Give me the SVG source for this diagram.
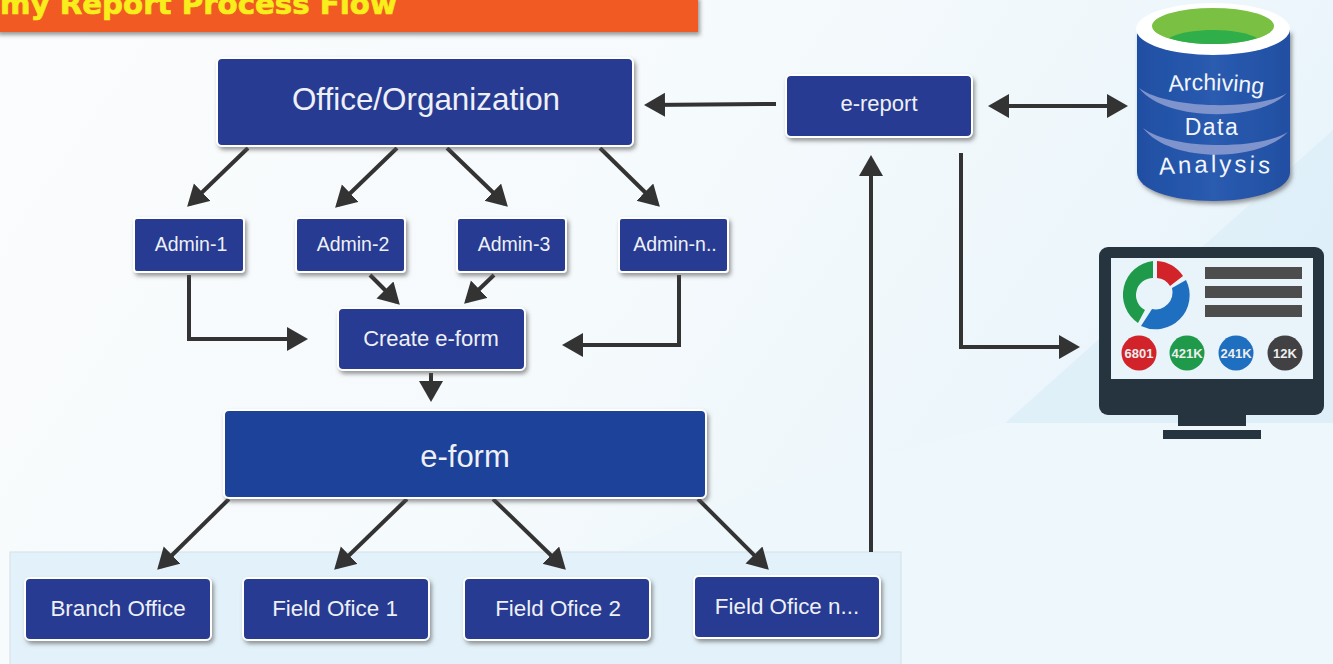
<svg xmlns="http://www.w3.org/2000/svg" width="1333" height="664" viewBox="0 0 1333 664">
<style>
.box{fill:#283b91;stroke:#fff;stroke-width:2}
.t{fill:#eef0f6;font-family:"Liberation Sans",Arial,sans-serif;text-anchor:middle}
.s{font-size:19.5px}.m{font-size:22.4px}
.c{fill:none;stroke:#333;stroke-width:4;marker-end:url(#a)}
.k{font-family:"Liberation Sans",Arial,sans-serif;font-size:13px;font-weight:bold;fill:#eee;text-anchor:middle}
.dbt{font-family:"Liberation Sans",Arial,sans-serif;fill:#f2f5fb;text-anchor:middle}
.mon{fill:#26343f}
</style>
<defs>
<linearGradient id="bg" x1="0" y1="0" x2="1" y2="0.35"><stop offset="0" stop-color="#fbfcfd"/><stop offset="0.55" stop-color="#f5fafc"/><stop offset="1" stop-color="#e8f4fb"/></linearGradient>
<linearGradient id="cyl" x1="0" y1="0" x2="1" y2="0"><stop offset="0" stop-color="#1f4fa3"/><stop offset="0.5" stop-color="#2a5bb0"/><stop offset="1" stop-color="#214fa2"/></linearGradient>
<marker id="a" markerUnits="userSpaceOnUse" markerWidth="24" markerHeight="26" refX="17" refY="12" orient="auto-start-reverse"><path d="M0,0L21,12L0,24Z" fill="#333"/></marker>
<filter id="sh" x="-10%" y="-15%" width="120%" height="135%"><feDropShadow dx="2" dy="3" stdDeviation="2" flood-color="#555" flood-opacity="0.6"/></filter>
<path id="p1" d="M1166,92Q1215,87 1266,95"/>
<path id="p2" d="M1156,175Q1215,170 1276,174"/>
</defs>
<rect width="1333" height="664" fill="url(#bg)"/>
<polygon points="1005,423 1333,130 1333,423" fill="#dcedf8" opacity="0.75"/>
<polygon points="420,664 620,550 760,490 900,452 1005,423 1333,423 1333,664" fill="#eef7fc"/>

<g id="title">
<rect x="-4" y="-4" width="702" height="36" fill="#f15a24" filter="url(#sh)"/>
<text x="0" y="14" font-family="'DejaVu Sans',sans-serif" font-weight="bold" font-size="29" fill="#f7ee1b" stroke="#f7ee1b" stroke-width="0.7" textLength="397" lengthAdjust="spacingAndGlyphs">my Report Process Flow</text>
</g>

<g id="panel"><rect x="10" y="552" width="891" height="114" fill="#e3f2fa" stroke="#d3dfe6"/></g>

<g id="connectors">
<path class="c" d="M248,148L190,204"/>
<path class="c" d="M397,148L338,205"/>
<path class="c" d="M447,148L505,204"/>
<path class="c" d="M600,148L657,204"/>
<path class="c" d="M776,104L648,105"/>
<path class="c" d="M992,106L1124,106" style="marker-start:url(#a)"/>
<path class="c" d="M961,153V347H1076"/>
<path class="c" d="M871,552V159"/>
<path class="c" d="M189,275V339H304"/>
<path class="c" d="M679,275V345H566"/>
<path class="c" d="M370,275L397,302"/>
<path class="c" d="M494,275L467,301"/>
<path class="c" d="M431,373V398"/>
<path class="c" d="M229,499L160,567"/>
<path class="c" d="M407,499L337,567"/>
<path class="c" d="M493,499L563,567"/>
<path class="c" d="M698,499L766,567"/>
</g>

<g id="office"><rect class="box" x="217" y="58" width="416" height="88" rx="5" filter="url(#sh)"/><text class="t" x="426" y="110" font-size="31.4">Office/Organization</text></g>
<g id="ereport"><rect class="box" x="786" y="75" width="186" height="62" rx="5" filter="url(#sh)"/><text class="t" x="879" y="111" font-size="22">e-report</text></g>
<g id="admin1"><rect class="box" x="134" y="218" width="110" height="54" rx="3" filter="url(#sh)"/><text class="t s" x="191" y="251">Admin-1</text></g>
<g id="admin2"><rect class="box" x="296" y="218" width="109" height="54" rx="3" filter="url(#sh)"/><text class="t s" x="353" y="251">Admin-2</text></g>
<g id="admin3"><rect class="box" x="457" y="218" width="109" height="54" rx="3" filter="url(#sh)"/><text class="t s" x="514" y="251">Admin-3</text></g>
<g id="adminn"><rect class="box" x="619" y="218" width="109" height="54" rx="3" filter="url(#sh)"/><text class="t s" x="675" y="251">Admin-n..</text></g>
<g id="create"><rect class="box" x="338" y="308" width="187" height="62" rx="5" filter="url(#sh)"/><text class="t" x="431" y="346" font-size="22">Create e-form</text></g>
<g id="eform"><rect class="box" x="224" y="410" width="482" height="88" rx="5" style="fill:#1f4399" filter="url(#sh)"/><text class="t" x="465" y="467" font-size="31">e-form</text></g>
<g id="branch"><rect class="box" x="25" y="578" width="186" height="62" rx="5" filter="url(#sh)"/><text class="t m" x="118" y="616">Branch Office</text></g>
<g id="field1"><rect class="box" x="243" y="578" width="186" height="62" rx="5" filter="url(#sh)"/><text class="t m" x="335" y="616">Field Ofice 1</text></g>
<g id="field2"><rect class="box" x="464" y="578" width="186" height="62" rx="5" filter="url(#sh)"/><text class="t m" x="558" y="616">Field Ofice 2</text></g>
<g id="fieldn"><rect class="box" x="694" y="576" width="186" height="62" rx="5" filter="url(#sh)"/><text class="t m" x="787" y="614">Field Ofice n...</text></g>

<g id="database">
<path d="M1137,30V172C1137,190 1172,201 1213,201C1254,201 1290,190 1290,172V30Z" fill="url(#cyl)" filter="url(#sh)"/>
<ellipse cx="1213" cy="29" rx="77" ry="26" fill="#fff"/>
<ellipse cx="1213" cy="26" rx="61" ry="18" fill="#7ac143"/>
<path d="M1169,38C1180,32 1198,30 1213,30C1232,30 1248,33 1257,38C1245,42 1230,44 1213,44C1196,44 1181,42 1169,38Z" fill="#2fae4a"/>
<path d="M1139,88C1165,122 1260,122 1287,93C1262,110 1168,110 1139,88Z" fill="#7f93cc"/>
<path d="M1143,128C1170,163 1258,163 1288,132C1260,150 1170,150 1143,128Z" fill="#7f93cc"/>
<text class="dbt" font-size="23"><textPath href="#p1" startOffset="50%">Archiving</textPath></text>
<text class="dbt" x="1212" y="135" font-size="23" letter-spacing="1.5">Data</text>
<text class="dbt" font-size="24" letter-spacing="3"><textPath href="#p2" startOffset="50%">Analysis</textPath></text>
</g>

<g id="monitor">
<rect class="mon" x="1099" y="247" width="225" height="168" rx="9"/>
<rect x="1111" y="258" width="202" height="121" fill="#e8f3fa"/>
<rect class="mon" x="1178" y="414" width="68" height="12"/>
<rect class="mon" x="1163" y="430" width="98" height="9"/>
<path d="M1157,261A34,34 0 0 1 1183,276L1170,286A17,17 0 0 0 1157,278Z" fill="#d2232a"/>
<path d="M1186,280A34,34 0 0 1 1141,326L1152,309A17,17 0 0 0 1172,288Z" fill="#1f6fc0"/>
<path d="M1138,323A34,34 0 0 1 1153,261L1153,278A17,17 0 0 0 1145,310Z" fill="#1f9a4b"/>
<rect x="1205" y="267" width="97" height="12" fill="#4d4d4d"/>
<rect x="1205" y="286" width="97" height="12" fill="#4d4d4d"/>
<rect x="1205" y="305" width="97" height="12" fill="#4d4d4d"/>
<circle cx="1139" cy="353" r="17.5" fill="#d2232a"/><text class="k" x="1139" y="358">6801</text>
<circle cx="1187" cy="353" r="17.5" fill="#1f9a4b"/><text class="k" x="1187" y="358">421K</text>
<circle cx="1236" cy="353" r="17.5" fill="#1f6fc0"/><text class="k" x="1236" y="358">241K</text>
<circle cx="1285" cy="353" r="17.5" fill="#414042"/><text class="k" x="1285" y="358">12K</text>
</g>
</svg>
